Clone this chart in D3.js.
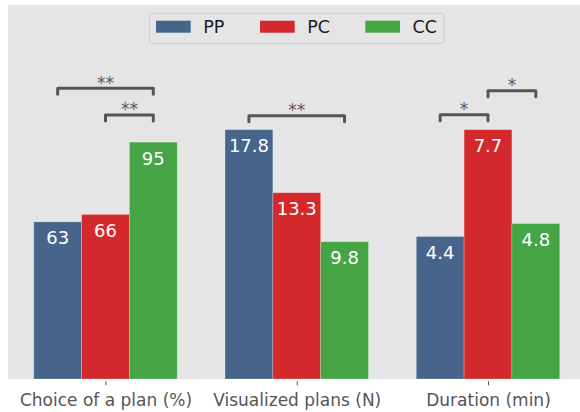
<!DOCTYPE html>
<html>
<head>
<meta charset="utf-8">
<script src="https://cdn.jsdelivr.net/npm/d3@7"></script>
<style>
  html, body { margin: 0; padding: 0; background: #ffffff; }
  svg { display: block; font-family: "DejaVu Sans", sans-serif; }
</style>
</head>
<body>
<svg id="chart" width="580" height="412"></svg>
<script>
// Metric groups on the x axis
const categories = ["Choice of a plan (%)", "Visualized plans (N)", "Duration (min)"];
// Conditions (one bar per condition in each group)
const seriesNames = ["PP", "PC", "CC"];
const seriesColors = ["#47648b", "#d4292c", "#45a545"];
// Values per condition, in the order of categories
const valuesPP = [63, 17.8, 4.4];
const valuesPC = [66, 13.3, 7.7];
const valuesCC = [95, 9.8, 4.8];
// Each group is drawn relative to its own reference value
const groupScaleMax = [100, 17.8, 7.7];
// Significance brackets: group, first and last condition joined, height, label
const bracketGroup = [0, 0, 1, 2, 2];
const bracketFrom  = [0, 1, 0, 0, 1];
const bracketTo    = [2, 2, 2, 1, 2];
const bracketLevel = [1.166, 1.059, 1.056, 1.060, 1.156];
const bracketLabel = ["**", "**", "**", "*", "*"];

const series = [valuesPP, valuesPC, valuesCC];
const barWidth = 0.25;

const svg = d3.select("#chart");
const plot = { left: 8, top: 5, right: 580, bottom: 379 };

svg.append("rect")
  .attr("x", plot.left).attr("y", plot.top)
  .attr("width", plot.right - plot.left).attr("height", plot.bottom - plot.top)
  .attr("fill", "#e5e5e5");

const x = d3.scaleLinear().domain([0, 2]).range([105.5, 488]);
const y = d3.scaleLinear().domain([0, 1.5]).range([plot.bottom, plot.top]);
const unitPx = x(1) - x(0);
const barCenter = (g, s) => x(g + (s - 1) * barWidth);

// Bars
const bars = [];
series.forEach((vals, s) => {
  vals.forEach((v, g) => {
    bars.push({ s, g, v, n: v / groupScaleMax[g] });
  });
});

const barG = svg.append("g");
barG.selectAll("rect").data(bars).join("rect")
  .attr("x", d => barCenter(d.g, d.s) - barWidth * unitPx / 2)
  .attr("y", d => y(d.n))
  .attr("width", barWidth * unitPx)
  .attr("height", d => y(0) - y(d.n))
  .attr("fill", d => seriesColors[d.s])
  .attr("stroke", "rgba(255,255,255,0.3)")
  .attr("stroke-width", 0.8);

barG.selectAll("text").data(bars).join("text")
  .attr("x", d => barCenter(d.g, d.s))
  .attr("y", d => y(d.n) + 22.5)
  .attr("text-anchor", "middle")
  .attr("fill", "#ffffff")
  .attr("font-size", "18px")
  .text(d => d3.format("")(d.v));

// Axis
const axis = d3.axisBottom(x)
  .tickValues([0, 1, 2])
  .tickFormat(i => categories[i])
  .tickSize(4)
  .tickPadding(8.5);

const axG = svg.append("g")
  .attr("transform", `translate(0,${plot.bottom + 2.3})`)
  .call(axis);
axG.select(".domain").remove();
axG.selectAll(".tick line").attr("stroke", "#555").attr("stroke-width", 1);
axG.selectAll(".tick text")
  .attr("fill", "#555")
  .attr("font-size", "17px")
  .attr("font-family", "DejaVu Sans, sans-serif");

// Significance brackets
const tickDrop = 0.024;
const brG = svg.append("g");
bracketGroup.forEach((g, i) => {
  const x1 = barCenter(g, bracketFrom[i]);
  const x2 = barCenter(g, bracketTo[i]);
  const yl = y(bracketLevel[i]);
  const yt = y(bracketLevel[i] - tickDrop);
  brG.append("path")
    .attr("d", `M${x1},${yt}L${x1},${yl}L${x2},${yl}L${x2},${yt}`)
    .attr("fill", "none")
    .attr("stroke", "#555")
    .attr("stroke-width", 3)
    .attr("stroke-linejoin", "round")
    .attr("stroke-linecap", "round");
  brG.append("text")
    .attr("x", (x1 + x2) / 2)
    .attr("y", yl + 0.5)
    .attr("text-anchor", "middle")
    .attr("fill", "#5a5a5a")
    .attr("font-size", "17px")
    .text(bracketLabel[i]);
});

// Legend
const lg = svg.append("g");
lg.append("rect")
  .attr("x", 149.3).attr("y", 13.3)
  .attr("width", 294.7).attr("height", 30)
  .attr("rx", 2.5)
  .attr("fill", "#e5e5e5")
  .attr("stroke", "#cccccc")
  .attr("stroke-width", 1);
const legendX = [156, 260, 365.3];
seriesNames.forEach((name, i) => {
  lg.append("rect")
    .attr("x", legendX[i]).attr("y", 20.7)
    .attr("width", 34.7).attr("height", 12)
    .attr("fill", seriesColors[i]);
  lg.append("text")
    .attr("x", legendX[i] + 47.3)
    .attr("y", 33.3)
    .attr("fill", "#1a1a1a")
    .attr("font-size", "17.5px")
    .text(name);
});
</script>
</body>
</html>
